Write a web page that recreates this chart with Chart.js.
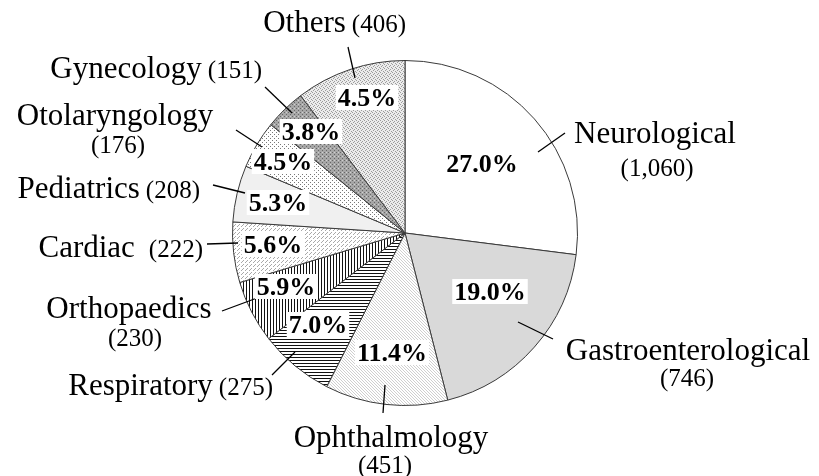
<!DOCTYPE html>
<html>
<head>
<meta charset="utf-8">
<script src="https://cdn.jsdelivr.net/npm/chart.js@4/dist/chart.umd.min.js"></script>
<style>
  html, body { margin: 0; padding: 0; background: #fff; }
  #wrap { width: 819px; height: 476px; }
</style>
</head>
<body>
<div id="wrap"><canvas id="pie"></canvas></div>
<script>
// data, clockwise from 12 o'clock
const categories = ['Neurological', 'Gastroenterological', 'Ophthalmology', 'Respiratory', 'Orthopaedics',
  'Cardiac', 'Pediatrics', 'Otolaryngology', 'Gynecology', 'Others'];
const counts = [1060, 746, 451, 275, 230, 222, 208, 176, 151, 406];
const countLabels = ['(1,060)', '(746)', '(451)', '(275)', '(230)', '(222)', '(208)', '(176)', '(151)', '(406)'];
const percentLabels = ['27.0%', '19.0%', '11.4%', '7.0%', '5.9%', '5.6%', '5.3%', '4.5%', '3.8%', '4.5%'];

// label layout, offsets in px from the pie centre
// two: name above count (centred), otherwise one line right-aligned at x
const pctPos = [[77, -69], [85, 59], [-13, 120], [-87, 92], [-119, 54], [-132, 12], [-127, -30], [-122, -71], [-94, -101], [-38, -135]];
const namePos = [
  { two: true, x: 250, y: -100, cx: 252, cy: -65 },
  { two: true, x: 283, y: 117, cx: 282, cy: 145 },
  { two: true, x: -14, y: 204, cx: -20, cy: 232 },
  { x: -132, y: 152, gap: 6 },
  { two: true, x: -276, y: 75, cx: -270, cy: 105 },
  { x: -202, y: 14, gap: 14 },
  { x: -205, y: -45, gap: 6 },
  { two: true, x: -290, y: -118, cx: -287, cy: -88 },
  { x: -143, y: -165, gap: 6 },
  { x: 1, y: -211, gap: 6 }
];
const leaders = [
  [133, -81, 160, -100], [113, 89, 148, 106], [-20, 152, -22, 180], [-133, 142, -110, 119],
  [-183, 78, -148, 65], [-198, 11, -167, 10], [-192, -48, -160, -40], [-169, -103, -143, -86],
  [-140, -146, -113, -120], [-57, -186, -50, -155]
];

function makePattern(size, bg, draw) {
  const c = document.createElement('canvas');
  c.width = size; c.height = size;
  const g = c.getContext('2d');
  g.fillStyle = bg;
  g.fillRect(0, 0, size, size);
  draw(g, size);
  return g.createPattern(c, 'repeat');
}

const fills = [
  '#ffffff',
  '#d9d9d9',
  makePattern(3, '#ffffff', (g, s) => { g.fillStyle = '#cfcfcf'; for (let i = 0; i < s; i++) g.fillRect(i, i, 1, 1); }),
  makePattern(3, '#ffffff', (g, s) => { g.fillStyle = '#111'; g.fillRect(0, 0, s, 1); }),
  makePattern(3, '#ffffff', (g, s) => { g.fillStyle = '#111'; g.fillRect(0, 0, 1, s); }),
  makePattern(4, '#ffffff', (g, s) => { g.fillStyle = '#a8a8a8'; for (let i = 0; i < 3; i++) g.fillRect(s - 1 - i, i, 1, 1); }),
  '#f0f0f0',
  makePattern(4, '#ffffff', (g) => { g.fillStyle = '#777'; g.fillRect(0, 0, 1, 1); g.fillRect(2, 2, 1, 1); }),
  makePattern(4, '#a6a6a6', (g) => { g.fillStyle = '#666'; g.fillRect(0, 0, 1, 1); g.fillRect(2, 2, 1, 1); g.fillStyle = '#d0d0d0'; g.fillRect(2, 0, 1, 1); }),
  makePattern(4, '#ececec', (g) => { g.fillStyle = '#9c9c9c'; g.fillRect(0, 0, 1, 1); g.fillRect(2, 1, 1, 1); g.fillRect(1, 2, 1, 1); g.fillRect(3, 3, 1, 1); })
];

const SERIF = '"Liberation Serif", "Times New Roman", serif';

const labelPlugin = {
  id: 'pieLabels',
  afterDatasetsDraw(chart) {
    const ctx = chart.ctx;
    const arcs = chart.getDatasetMeta(0).data;
    if (!arcs.length) return;
    const { x: cx, y: cy } = arcs[0].getProps(['x', 'y'], true);
    ctx.save();

    // leader lines
    ctx.strokeStyle = '#000';
    ctx.lineWidth = 1.3;
    leaders.forEach(l => {
      ctx.beginPath();
      ctx.moveTo(cx + l[0], cy + l[1]);
      ctx.lineTo(cx + l[2], cy + l[3]);
      ctx.stroke();
    });

    // percentage labels on white boxes
    ctx.font = 'bold 26px ' + SERIF;
    ctx.textAlign = 'center';
    ctx.textBaseline = 'middle';
    percentLabels.forEach((t, i) => {
      const px = cx + pctPos[i][0], py = cy + pctPos[i][1];
      const w = ctx.measureText(t).width + 4;
      ctx.fillStyle = '#fff';
      ctx.fillRect(px - w / 2, py - 13, w, 25);
      ctx.fillStyle = '#000';
      ctx.fillText(t, px, py + 1);
    });

    // category names with counts
    ctx.textBaseline = 'alphabetic';
    ctx.fillStyle = '#000';
    categories.forEach((name, i) => {
      const p = namePos[i];
      if (p.two) {
        ctx.textAlign = 'center';
        ctx.font = '31px ' + SERIF;
        ctx.fillText(name, cx + p.x, cy + p.y + 10);
        ctx.font = '25px ' + SERIF;
        ctx.fillText(countLabels[i], cx + p.cx, cy + p.cy + 8);
      } else {
        ctx.textAlign = 'right';
        ctx.font = '25px ' + SERIF;
        const cw = ctx.measureText(countLabels[i]).width;
        ctx.fillText(countLabels[i], cx + p.x, cy + p.y + 10);
        ctx.font = '31px ' + SERIF;
        ctx.fillText(name, cx + p.x - cw - p.gap, cy + p.y + 10);
      }
    });
    ctx.restore();
  }
};

new Chart(document.getElementById('pie'), {
  type: 'pie',
  data: {
    labels: categories,
    datasets: [{
      data: counts,
      backgroundColor: fills,
      borderColor: '#3a3a3a',
      borderWidth: 1
    }]
  },
  options: {
    responsive: true,
    maintainAspectRatio: false,
    animation: false,
    layout: { padding: { top: 60, bottom: 70, left: 0, right: 9 } },
    plugins: {
      legend: { display: false },
      tooltip: { enabled: false }
    }
  },
  plugins: [labelPlugin]
});
</script>
</body>
</html>
